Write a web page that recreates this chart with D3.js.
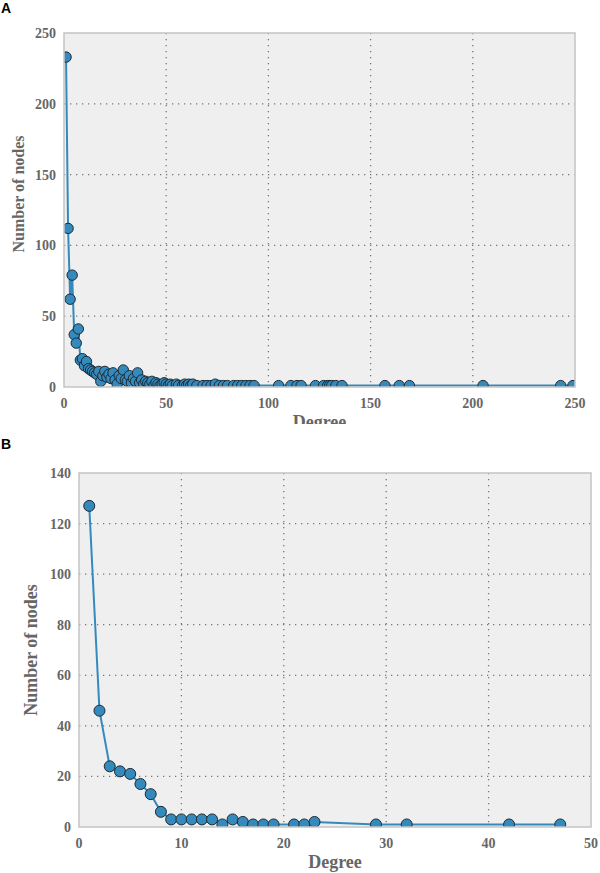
<!DOCTYPE html>
<html>
<head>
<meta charset="utf-8">
<script src="https://cdn.jsdelivr.net/npm/d3@7"></script>
<style>
  body { margin: 0; background: #fff; }
  svg { display: block; }
  .tick-label { font-family: 'Liberation Serif', serif; font-weight: bold; font-size: 14px; fill: #666; }
  .axis-title { font-family: 'Liberation Serif', serif; font-weight: bold; font-size: 18px; fill: #666; }
  .panel-tag { font-family: 'Liberation Sans', Arial, sans-serif; font-weight: bold; font-size: 14px; fill: #000; }
</style>
</head>
<body>
<svg id="chart" width="600" height="873"></svg>
<script>

// panel A: full degree distribution
var degreeA = [1, 2, 3, 4, 5, 6, 7, 8, 9, 10, 11, 12, 13, 14, 15, 16, 17, 18, 19, 20,
  21, 22, 23, 24, 25, 26, 27, 28, 29, 30, 31, 32, 33, 34, 35, 36, 37, 38, 39, 40,
  41, 42, 43, 44, 45, 46, 47, 48, 49, 50, 51, 52, 53, 55, 56, 58, 59, 60, 61, 62,
  63, 65, 68, 70, 72, 74, 76, 78, 80, 83, 85, 87, 89, 91, 93,
  105, 111, 114, 116, 123, 127, 129, 130, 131, 133, 136, 157, 164, 169, 205, 243, 249];
var countA = [233, 112, 62, 79, 37, 31, 41, 19, 20, 15, 18, 13, 12, 11, 10, 9, 11, 4, 8, 11,
  7, 9, 6, 10, 5, 2, 8, 6, 12, 5, 4, 8, 3, 6, 4, 10, 3, 5, 2, 4,
  3, 2, 4, 1, 3, 2, 1, 2, 3, 2, 1, 2, 1, 2, 1, 1, 2, 1, 2, 1,
  2, 1, 1, 1, 1, 2, 1, 1, 1, 1, 1, 1, 1, 1, 1,
  1, 1, 1, 1, 1, 1, 1, 1, 1, 1, 1, 1, 1, 1, 1, 1, 1];
var xTicksA = [0, 50, 100, 150, 200, 250];
var yTicksA = [0, 50, 100, 150, 200, 250];

// panel B
var degreeB = [1, 2, 3, 4, 5, 6, 7, 8, 9, 10, 11, 12, 13, 14, 15, 16, 17, 18, 19,
  21, 22, 23, 29, 32, 42, 47];
var countB = [127, 46, 24, 22, 21, 17, 13, 6, 3, 3, 3, 3, 3, 1, 3, 2, 1, 1, 1,
  1, 1, 2, 1, 1, 1, 1];
var xTicksB = [0, 10, 20, 30, 40, 50];
var yTicksB = [0, 20, 40, 60, 80, 100, 120, 140];

var svg = d3.select('#chart');

function panel(opts) {
  var x = d3.scaleLinear().domain(opts.xDomain).range([opts.left, opts.right]),
      y = d3.scaleLinear().domain(opts.yDomain).range([opts.bottom, opts.top]),
      w = opts.right - opts.left,
      h = opts.bottom - opts.top,
      pts = opts.xs.map(function(d, i) { return { x: d, y: opts.ys[i] }; })
      ;

  var g = svg.append('g');
  if (opts.clipBottom) {
    svg.append('clipPath').attr('id', opts.id + '-all')
      .append('rect').attr('x', 0).attr('y', 0).attr('width', 600).attr('height', opts.clipBottom);
    g.attr('clip-path', 'url(#' + opts.id + '-all)');
  }

  svg.append('clipPath').attr('id', opts.id + '-plot')
    .append('rect')
      .attr('x', opts.left).attr('y', opts.top)
      .attr('width', w).attr('height', h)
  ;

  g.append('rect')
      .attr('x', opts.left).attr('y', opts.top)
      .attr('width', w).attr('height', h)
      .attr('fill', '#efefef')
  ;

  // dotted grid
  g.selectAll('.gx').data(opts.xTicks.slice(1, -1)).enter().append('line')
      .attr('x1', function(d) { return x(d); }).attr('x2', function(d) { return x(d); })
      .attr('y1', opts.top).attr('y2', opts.bottom)
      .attr('stroke', '#777').attr('stroke-width', 1.3)
      .attr('stroke-dasharray', '1.3,4.7')
  ;
  g.selectAll('.gy').data(opts.yTicks.slice(1, -1)).enter().append('line')
      .attr('y1', function(d) { return y(d); }).attr('y2', function(d) { return y(d); })
      .attr('x1', opts.left).attr('x2', opts.right)
      .attr('stroke', '#777').attr('stroke-width', 1.3)
      .attr('stroke-dasharray', '1.3,4.7')
  ;

  var line = d3.line()
      .x(function(d) { return x(d.x); })
      .y(function(d) { return y(d.y); })
  ;

  var plot = g.append('g').attr('clip-path', 'url(#' + opts.id + '-plot)');

  plot.append('path')
      .attr('d', line(pts))
      .attr('fill', 'none')
      .attr('stroke', '#348ABD')
      .attr('stroke-width', 2)
  ;

  plot.selectAll('circle').data(pts).enter().append('circle')
      .attr('cx', function(d) { return x(d.x); })
      .attr('cy', function(d) { return y(d.y); })
      .attr('r', opts.r)
      .attr('fill', '#348ABD')
      .attr('stroke', '#1c2a33')
      .attr('stroke-width', 1)
  ;

  g.append('rect')
      .attr('x', opts.left).attr('y', opts.top)
      .attr('width', w).attr('height', h)
      .attr('fill', 'none')
      .attr('stroke', '#c4c4c4')
      .attr('stroke-width', 1.5)
  ;

  g.selectAll('.tx').data(opts.xTicks).enter().append('text')
      .attr('class', 'tick-label')
      .attr('x', function(d) { return x(d); })
      .attr('y', opts.bottom + 21)
      .attr('text-anchor', 'middle')
      .text(function(d) { return d; })
  ;
  g.selectAll('.ty').data(opts.yTicks).enter().append('text')
      .attr('class', 'tick-label')
      .attr('x', opts.left - 8)
      .attr('y', function(d) { return y(d) + 5; })
      .attr('text-anchor', 'end')
      .text(function(d) { return d; })
  ;

  g.append('text')
      .attr('class', 'axis-title')
      .attr('x', (opts.left + opts.right) / 2)
      .attr('y', opts.bottom + 41)
      .attr('text-anchor', 'middle')
      .text('Degree')
  ;
  g.append('text')
      .attr('class', 'axis-title')
      .attr('transform', 'translate(' + opts.yTitleX + ',' + opts.yTitleY + ') rotate(-90)')
      .attr('text-anchor', 'middle')
      .style('font-size', opts.yTitleSize + 'px')
      .text('Number of nodes')
  ;

  svg.append('text')
      .attr('class', 'panel-tag')
      .attr('x', 1)
      .attr('y', opts.tagY)
      .text(opts.tag)
  ;
}

panel({
  id: 'pa', tag: 'A', tagY: 13,
  xs: degreeA, ys: countA, xTicks: xTicksA, yTicks: yTicksA,
  xDomain: [0, 250], yDomain: [0, 250],
  left: 64, right: 575, top: 33, bottom: 387,
  yTitleX: 24, yTitleY: 194, yTitleSize: 16, r: 5.2, clipBottom: 424
});

panel({
  id: 'pb', tag: 'B', tagY: 449,
  xs: degreeB, ys: countB, xTicks: xTicksB, yTicks: yTicksB,
  xDomain: [0, 50], yDomain: [0, 140],
  left: 79, right: 591, top: 473, bottom: 827,
  yTitleX: 37, yTitleY: 650, yTitleSize: 18, r: 5.5
});

</script>
</body>
</html>
